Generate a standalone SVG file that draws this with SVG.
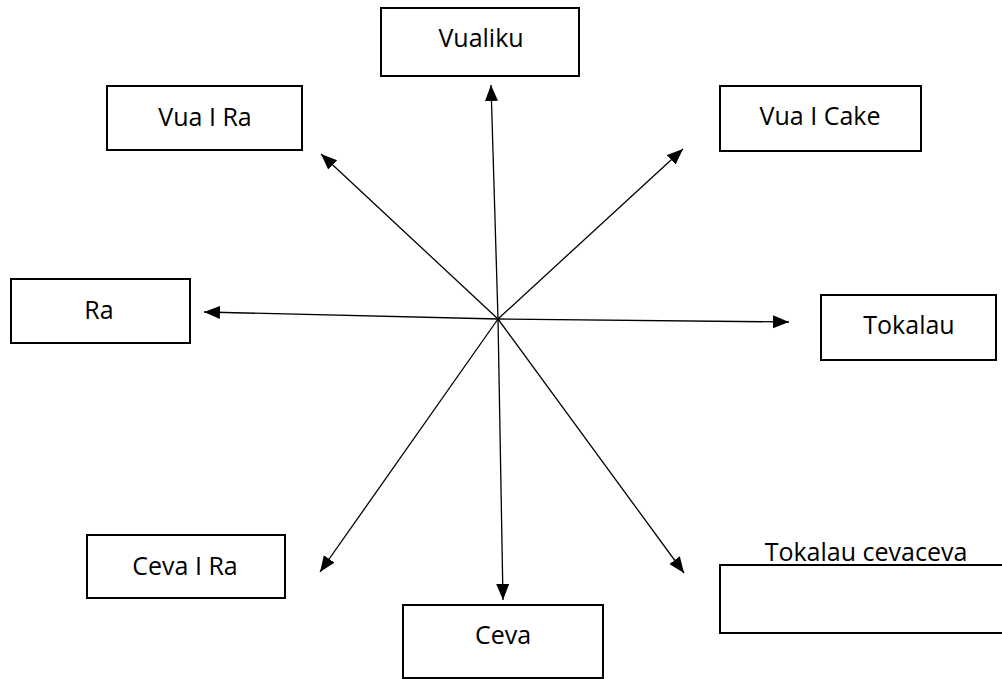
<svg xmlns="http://www.w3.org/2000/svg" width="1002" height="679" viewBox="0 0 1002 679">
<style>
.box{fill:#fff;stroke:#000;stroke-width:2}
.lbl{font-family:"Open Sans","Liberation Sans",sans-serif;font-size:25px;fill:#000;text-anchor:middle}
.con{stroke:#000;stroke-width:1.3;fill:none;marker-end:url(#ah)}
</style>
<defs>
<marker id="ah" markerUnits="userSpaceOnUse" markerWidth="18" markerHeight="14" refX="16" refY="6.5" orient="auto">
<path d="M0,0 L16,6.5 L0,13 Z" fill="#000"/>
</marker>
</defs>
<rect width="1002" height="679" fill="#fff"/>
<g id="connectors">
<line class="con" x1="498" y1="319" x2="491" y2="85"/>
<line class="con" x1="498" y1="319" x2="503" y2="600"/>
<line class="con" x1="498" y1="319" x2="204" y2="312"/>
<line class="con" x1="498" y1="319" x2="789" y2="322"/>
<line class="con" x1="498" y1="319" x2="321" y2="154"/>
<line class="con" x1="498" y1="319" x2="683" y2="149"/>
<line class="con" x1="498" y1="319" x2="320" y2="572"/>
<line class="con" x1="498" y1="319" x2="684" y2="573"/>
</g>
<g id="vualiku"><rect class="box" x="381" y="8" width="198" height="68"/><text class="lbl" x="481" y="47">Vualiku</text></g>
<g id="vua-i-ra"><rect class="box" x="107" y="86" width="195" height="64"/><text class="lbl" x="205" y="126">Vua I Ra</text></g>
<g id="vua-i-cake"><rect class="box" x="720" y="86" width="201" height="65"/><text class="lbl" x="820" y="125">Vua I Cake</text></g>
<g id="ra"><rect class="box" x="11" y="279" width="179" height="64"/><text class="lbl" x="99" y="319">Ra</text></g>
<g id="tokalau"><rect class="box" x="821" y="295" width="175" height="65"/><text class="lbl" x="909" y="334">Tokalau</text></g>
<g id="ceva-i-ra"><rect class="box" x="87" y="535" width="198" height="63"/><text class="lbl" x="185" y="575">Ceva I Ra</text></g>
<g id="tokalau-cevaceva"><rect class="box" x="720" y="565" width="290" height="68"/><text class="lbl" x="866" y="561">Tokalau cevaceva</text></g>
<g id="ceva"><rect class="box" x="403" y="605" width="200" height="73"/><text class="lbl" x="503" y="644">Ceva</text></g>
</svg>
